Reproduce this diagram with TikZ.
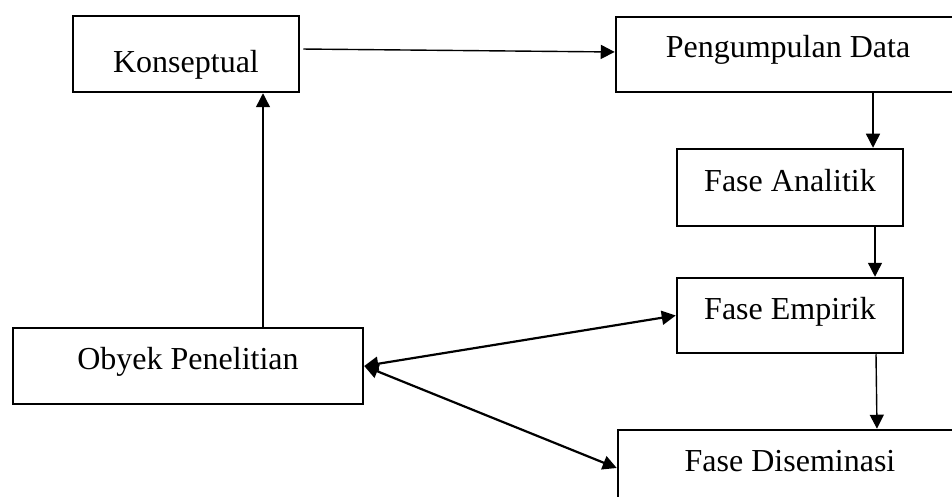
\documentclass[tikz,border=0pt]{standalone}
\usepackage{fontspec}
\setmainfont{Liberation Serif}
\usetikzlibrary{arrows.meta}
\begin{document}
\begin{tikzpicture}[x=0.5pt, y=-0.5pt, line cap=butt, line join=miter,
		>={Triangle[length=7pt,width=7pt]},
		font=\fontsize{16}{19}\selectfont,
		kotak/.style={draw, line width=1.25pt, rectangle, inner sep=0pt, text height=20.5pt, text depth=17pt},
		panah/.style={->, line width=0.7pt},
		dua/.style={<->, line width=1.1pt}]
	\useasboundingbox (0,0) rectangle (952,497);
	\clip (0,0) rectangle (952,497);
	\node[kotak, minimum width=113pt, text height=28.5pt, text depth=9.5pt] (kons) at (186,54) {Konseptual};
	\node[kotak, minimum width=172pt] (data) at (788,54.5) {Pengumpulan Data};
	\node[kotak, minimum width=113pt, text height=21.5pt] (analitik) at (790,187.5) {Fase Analitik};
	\node[kotak, minimum width=113pt] (empirik) at (790,315.5) {Fase Empirik};
	\node[kotak, minimum width=175pt, text depth=17.5pt] (obyek) at (188,366) {Obyek Penelitian};
	\node[kotak, minimum width=172pt, text depth=17.5pt] (diseminasi) at (790,468) {Fase Diseminasi};
	% alur utama
	\draw[panah, shorten <=1.5pt] ([yshift=2.5pt]kons.east) -- ([yshift=1.25pt]data.west);
	\draw[panah] ([xshift=42.5pt]data.south) -- ([xshift=41.5pt]analitik.north);
	\draw[panah] ([xshift=42.5pt]analitik.south) -- ([xshift=42.5pt]empirik.north);
	\draw[panah] ([xshift=43pt]empirik.south) -- ([xshift=43.5pt]diseminasi.north);
	\draw[panah] ([xshift=37.5pt]obyek.north) -- ([xshift=38.5pt]kons.south);
	% hubungan dua arah
	\draw[dua] (obyek.east) -- (empirik.west);
	\draw[dua] (obyek.east) -- (diseminasi.west);
\end{tikzpicture}
\end{document}
